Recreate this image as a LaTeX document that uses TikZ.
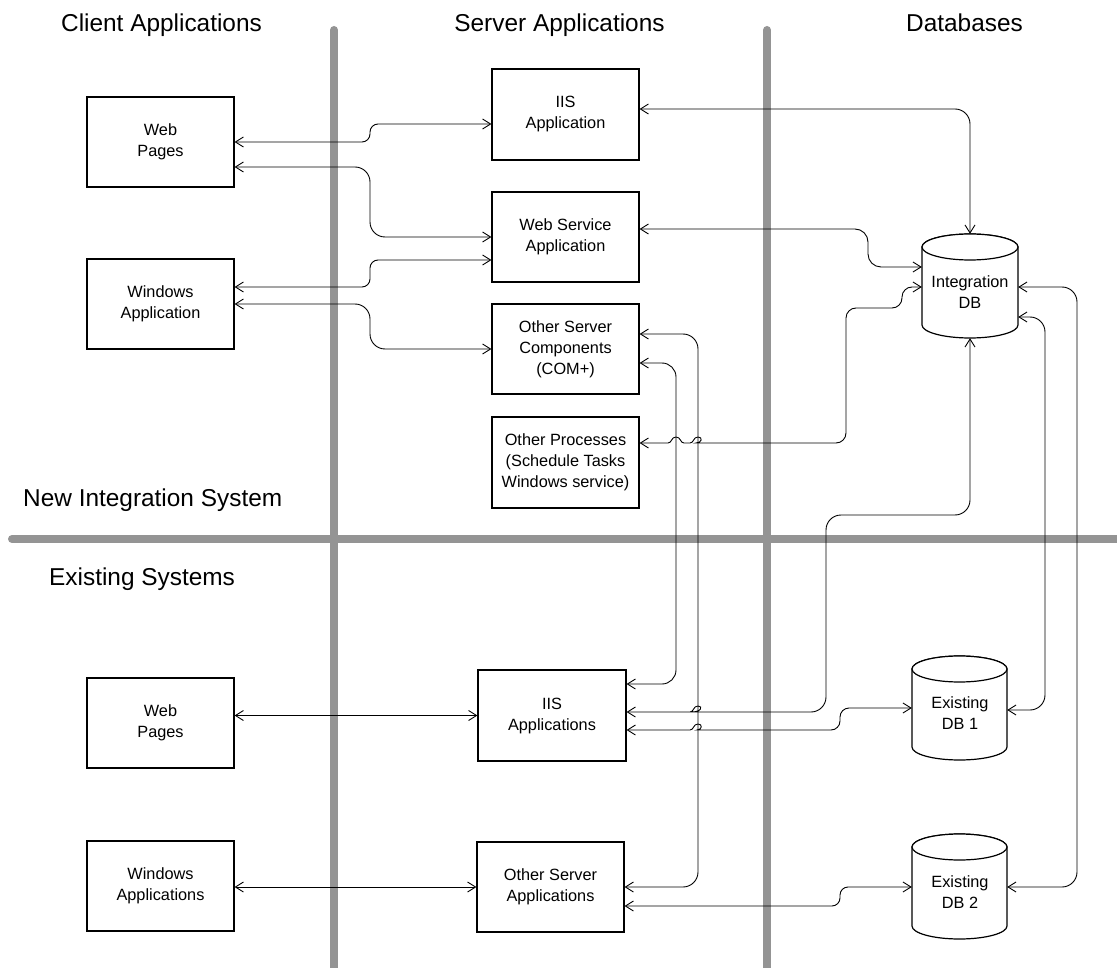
\documentclass[tikz,border=0pt]{standalone}
\usepackage{fontspec}
\setmainfont{Liberation Sans}
\usetikzlibrary{arrows.meta}
\newcommand{\bxfont}{\fontsize{16.3}{21}\selectfont}
\newcommand{\hdfont}{\fontsize{24.4}{29}\selectfont}
\begin{document}
\begin{tikzpicture}[x=1pt,y=-1pt,
  box/.style={draw, line width=1.2pt, minimum width=147pt, minimum height=90pt, inner sep=0pt, align=center, font=\bxfont},
  hd/.style={font=\hdfont, inner sep=0pt, anchor=base},
  sep/.style={line width=8pt, black!42, line cap=round},
  conn/.style={line width=0.9pt, {Straight Barb[length=8pt,width=10pt]}-{Straight Barb[length=8pt,width=10pt]}},
  cylb/.style={draw, line width=1.2pt, fill=white},
  cylnode/.style={inner sep=0pt, minimum width=96pt},
  dbtext/.style={font=\bxfont, align=center, inner sep=0pt}]
\useasboundingbox (0,0) rectangle (1117,968);
\fill[white] (0,0) rectangle (1117,968);

% separators
\draw[sep] (334,30) -- (334,980);
\draw[sep] (767,30) -- (767,980);
\draw[sep] (12,539) -- (1130,539);

% headings
\node[hd] (h1) at (161.5,32) {Client Applications};
\node[hd] (h2) at (559.5,32) {Server Applications};
\node[hd] (h3) at (964.5,32) {Databases};
\node[hd, anchor=base west] (h4) at (23,506) {New Integration System};
\node[hd, anchor=base west] (h5) at (49,585) {Existing Systems};

% boxes
\node[box] (wp1) at (160.5,142) {Web\\Pages};
\node[box] (wa1) at (160.5,304) {Windows\\Application};
\node[box, minimum height=91pt] (iis1) at (565.5,114.5) {IIS\\Application};
\node[box] (ws) at (565.5,237) {Web Service\\Application};
\node[box] (osc) at (565.5,349) {Other Server\\Components\\(COM+)};
\node[box, minimum height=91pt] (op) at (565.5,462.5) {Other Processes\\(Schedule Tasks\\Windows service)};
\node[box] (wp2) at (160.5,723) {Web\\Pages};
\node[box] (wa2) at (160.5,886) {Windows\\Applications};
\node[box, minimum height=91pt, minimum width=148pt] (iis2) at (552,715.5) {IIS\\Applications};
\node[box] (osa) at (550.5,887) {Other Server\\Applications};

% cylinders
\draw[cylb] (922,247) -- (922,325) arc[start angle=180,end angle=360,x radius=48pt,y radius=13pt] -- (1018,247) arc[start angle=0,end angle=180,x radius=48pt,y radius=13pt] -- cycle;
\draw[cylb] (970,247) ellipse [x radius=48pt, y radius=13pt];
\draw[cylb] (912,669) -- (912,747) arc[start angle=180,end angle=360,x radius=47.5pt,y radius=13pt] -- (1007,669) arc[start angle=0,end angle=180,x radius=47.5pt,y radius=13pt] -- cycle;
\draw[cylb] (959.5,669) ellipse [x radius=47.5pt, y radius=13pt];
\draw[cylb] (912,847) -- (912,926) arc[start angle=180,end angle=360,x radius=47.5pt,y radius=13pt] -- (1007,847) arc[start angle=0,end angle=180,x radius=47.5pt,y radius=13pt] -- cycle;
\draw[cylb] (959.5,847) ellipse [x radius=47.5pt, y radius=13pt];
\node[cylnode, minimum height=104pt] (idb) at (970,286) {};
\node[cylnode, minimum width=95pt, minimum height=104pt] (db1) at (959.5,708) {};
\node[cylnode, minimum width=95pt, minimum height=105pt] (db2) at (959.5,886.5) {};
\node[dbtext] (idbt) at (970,292) {Integration\\DB};
\node[dbtext] (db1t) at (960,713.5) {Existing\\DB 1};
\node[dbtext] (db2t) at (960,892) {Existing\\DB 2};

% connectors
\draw[conn, rounded corners=8pt] (wp1.east) -- (370,142) -- (370,124) -- ([yshift=-9.5pt]iis1.west);
\draw[conn, rounded corners=15pt] ([yshift=-25pt]wp1.east) -- (370,167) -- (370,237) -- (ws.west);
\draw[conn, rounded corners=8pt] ([yshift=17pt]wa1.east) -- (370,287) -- (370,260) -- ([yshift=-23pt]ws.west);
\draw[conn, rounded corners=15pt] (wa1.east) -- (370,304) -- (370,349) -- (osc.west);
\draw[conn, rounded corners=15pt] ([yshift=5.5pt]iis1.east) -- (970,109) -- (idb.north);
\draw[conn, rounded corners=13pt] ([yshift=8pt]ws.east) -- (868,229) -- (868,267) -- ([yshift=19pt]idb.west);
\draw[conn, rounded corners=10pt] ([yshift=-1pt]idb.west) -- (902,287) -- (902,308) -- (846,308) -- (846,443) -- (706,443) [sharp corners]
  .. controls (702,443) and (703,437) .. (698,437) .. controls (693,437) and (694,443) .. (690,443) -- (684,443)
  .. controls (680,443) and (681,437) .. (676,437) .. controls (671,437) and (672,443) .. (668,443) -- ([yshift=19.5pt]op.east);
\draw[conn, rounded corners=15pt] ([yshift=15pt]osc.east) -- (698,334) -- (698,887) -- (osa.east);
\draw[conn, rounded corners=14pt] ([yshift=-14pt]osc.east) -- (676,363) -- (676,684) -- ([yshift=31.5pt]iis2.east);
\draw[conn, rounded corners=15pt] (idb.south) -- (970,515) -- (826,515) -- (826,712) -- (706,712) [sharp corners]
  .. controls (702,712) and (703,706) .. (698,706) .. controls (693,706) and (694,712) .. (690,712) -- ([yshift=3.5pt]iis2.east);
\draw[conn, rounded corners=9pt] (db1.west) -- (840,708) -- (840,730) -- (706,730) [sharp corners]
  .. controls (702,730) and (703,724) .. (698,724) .. controls (693,724) and (694,730) .. (690,730) -- ([yshift=-14.5pt]iis2.east);
\draw[conn] (wp2.east |- iis2.west) -- (iis2.west);
\draw[conn] (wa2.east |- osa.west) -- (osa.west);
\draw[conn, rounded corners=8pt] ([yshift=-0.5pt]db2.west) -- (840,887) -- (840,906) -- ([yshift=-19pt]osa.east);
\draw[conn, rounded corners=15pt] ([yshift=-2pt]db1.east) -- (1045,710) -- (1045,317) -- ([yshift=-31pt]idb.east);
\draw[conn, rounded corners=15pt] ([yshift=-0.5pt]db2.east) -- (1077,887) -- (1077,287) -- ([yshift=-1pt]idb.east);
\end{tikzpicture}
\end{document}
